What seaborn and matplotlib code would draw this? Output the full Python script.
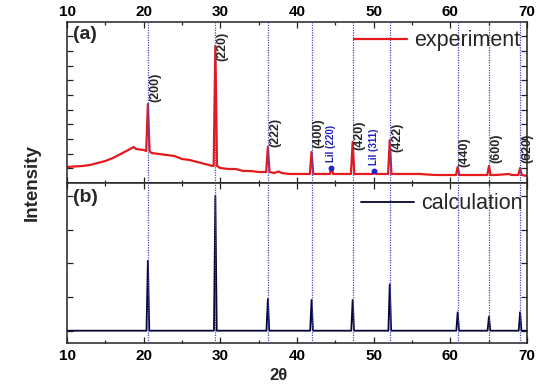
import matplotlib
matplotlib.use("Agg")
import matplotlib.pyplot as plt
from matplotlib.ticker import MultipleLocator
import seaborn as sns
import pandas as pd

# reflections of the main phase (2theta, degrees)
peak_pos = [20.55, 29.35, 36.2, 41.9, 47.26, 52.1, 60.96, 65.04, 69.1]
peak_hkl = ["(200)", "(220)", "(222)", "(400)", "(420)", "(422)", "(440)", "(600)", "(620)"]

# experiment (a): peak tops, feet and where the hkl labels sit
exp_peak_top = [79, 137, 36, 31, 41, 43, 16, 17, 15]
exp_peak_foot = [32, 17, 11, 9, 9, 9, 8, 8, 8]
exp_label_base = [81, 122, 36, 35, 33, 31, 16, 20, 20]

# LiI impurity reflections
lii_pos = [44.5, 50.1]
lii_hkl = ["LiI (220)", "LiI (311)"]
lii_top = [15, 12]
lii_foot = [9, 9]
lii_label_base = [21, 18]

# amorphous background of the experiment
bg_2theta = [10, 11, 12, 13, 14, 15, 16, 17, 18, 18.7, 19, 20, 21, 22, 23, 24, 25,
             26, 27, 28, 29, 30, 31, 32, 33, 34, 35, 35.5, 37, 37.6, 38, 39, 40,
             41, 43, 45, 46, 48, 49, 51, 53, 54, 56, 58, 60, 62, 64, 66, 67.6, 68, 70]
bg_int = [16, 16.5, 17, 18, 20, 22, 25, 29, 33, 36, 34, 33, 30, 29, 28, 27, 24,
          23, 21, 19, 17, 15, 14, 14, 12, 12, 11, 11, 10, 11.5, 10, 9, 9,
          9, 9, 9, 9, 9, 9, 9, 9, 9, 9, 8, 8, 8, 8, 8, 9, 8, 7]

# calculation (b): peak heights above the flat baseline
calc_peak_int = [70, 135, 31.7, 30.7, 30.7, 46.4, 18.4, 14, 18.4]
calc_bg_2theta = [10, 70]
calc_bg_int = [0, 0]

x_ticks = [10, 20, 30, 40, 50, 60, 70]


def pattern(bg_x, bg_y, px, top, foot, hw):
    rows = list(zip(bg_x, bg_y))
    for x, t, f in zip(px, top, foot):
        rows += [(x - hw, f), (x, t), (x + hw, f)]
    return pd.DataFrame(rows, columns=["2theta", "intensity"]).sort_values("2theta")


exp_df = pattern(bg_2theta, bg_int, peak_pos + lii_pos,
                 exp_peak_top + lii_top, exp_peak_foot + lii_foot, 0.22)
calc_df = pattern(calc_bg_2theta, calc_bg_int, peak_pos, calc_peak_int,
                  [0] * len(peak_pos), 0.18)

sns.set_theme(style="ticks")
plt.rcParams["font.family"] = ["Liberation Sans", "DejaVu Sans"]
plt.rcParams["axes.linewidth"] = 1.1
plt.rcParams["axes.edgecolor"] = "#222222"

fig = plt.figure(figsize=(5.57, 3.92), dpi=100)
ax1 = fig.add_axes([0.1203, 0.5332, 0.8258, 0.4107])
ax2 = fig.add_axes([0.1203, 0.125, 0.8258, 0.4082])

sns.lineplot(data=exp_df, x="2theta", y="intensity", ax=ax1, color="#e41a1c",
             lw=1.6, estimator=None, label="experiment")
sns.lineplot(data=calc_df, x="2theta", y="intensity", ax=ax2, color="#05052e",
             lw=1.3, estimator=None, label="calculation")

for ax in (ax1, ax2):
    for x in peak_pos:
        ax.axvline(x, color="#4848c8", lw=0.9, ls=(0, (1, 1)), zorder=3)
    ax.set_xlim(10, 70)
    ax.set_xticks(x_ticks)
    ax.set_xticklabels([str(t) for t in x_ticks], fontweight="bold",
                       fontsize=11, color="black")
    ax.xaxis.set_minor_locator(MultipleLocator(5))
    ax.tick_params(axis="both", which="major", direction="in", length=4.3,
                   width=0.9, top=True, bottom=True, left=True, right=True,
                   labelleft=False, color="#222222")
    ax.tick_params(axis="both", which="minor", direction="in", length=2.5,
                   width=0.9, top=True, bottom=True, left=True, right=True,
                   color="#222222")
    ax.set_xlabel("")
    ax.set_ylabel("")

ax1.set_ylim(0, 161)
ax1.yaxis.set_major_locator(MultipleLocator(14.65))
ax1.tick_params(axis="x", labeltop=True, labelbottom=False, pad=2)

ax2.set_ylim(-12.3, 147.7)
ax2.yaxis.set_major_locator(MultipleLocator(33.6))
ax2.tick_params(axis="x", labeltop=False, labelbottom=True, pad=4)

# hkl labels
for x, lab, yb in zip(peak_pos, peak_hkl, exp_label_base):
    ax1.text(x + 0.15, yb, lab, rotation=90, ha="left", va="bottom",
             fontsize=9, fontweight="bold")
for x, lab, yt, yb in zip(lii_pos, lii_hkl, lii_top, lii_label_base):
    ax1.plot([x], [yt], "o", color="#2020d0", ms=3.2, zorder=4)
    ax1.text(x, yb, lab, rotation=90, ha="center", va="bottom",
             fontsize=7, fontweight="bold", color="#2020c0")

ax1.text(0.013, 0.975, "(a)", transform=ax1.transAxes, ha="left", va="top",
         fontsize=14, fontweight="bold")
ax2.text(0.013, 0.96, "(b)", transform=ax2.transAxes, ha="left", va="top",
         fontsize=14, fontweight="bold")

ax1.legend(loc="center right", bbox_to_anchor=(0.985, 0.882), frameon=False,
           fontsize=15.5, handlelength=2.5, handletextpad=0.3, borderpad=0,
           borderaxespad=0)
ax2.legend(loc="center right", bbox_to_anchor=(0.99, 0.869), frameon=False,
           fontsize=15.5, handlelength=2.5, handletextpad=0.3, borderpad=0,
           borderaxespad=0)

fig.text(32.5 / 557, 1 - 182.5 / 392, "Intensity", rotation=90, ha="center",
         va="center", fontsize=13.5, fontweight="bold")
fig.text(0.5, 1 - 376 / 392, "2θ", ha="center", va="center", fontsize=12,
         fontweight="bold")

fig.savefig("out.png", dpi=100)
